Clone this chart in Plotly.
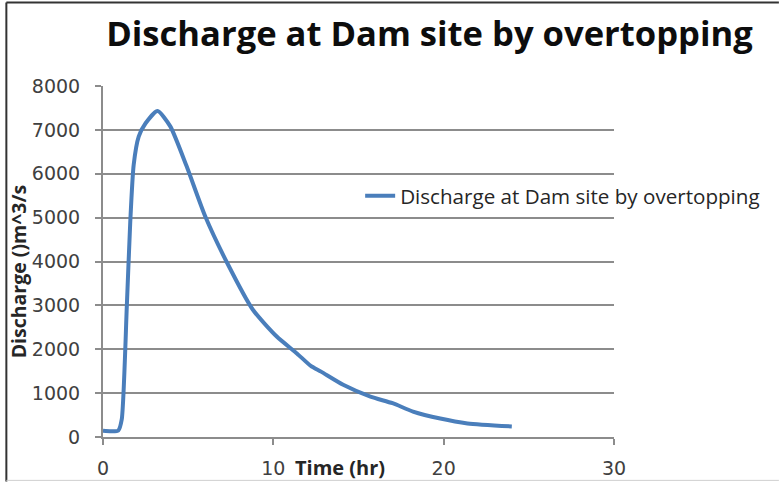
import plotly.graph_objects as go

# Data
time_hr = [0, 0.5, 0.9, 1.1, 1.4, 1.6, 1.8, 2.1, 2.5, 3.2, 3.95, 4.9, 6.0, 7.3, 8.8,
           10.2, 11.4, 12.2, 12.8, 14.1, 15.7, 17.0, 18.2, 19.8, 21.4, 24.0]
discharge = [140, 130, 150, 400, 3000, 4900, 6200, 6850, 7150, 7430, 7080, 6180, 5030,
             3960, 2900, 2290, 1900, 1620, 1490, 1190, 920, 770, 580, 420, 310, 240]
series_name = "Discharge at Dam site by overtopping"
title_text = "Discharge at Dam site by overtopping"
x_title = "Time (hr)"
y_title = "Discharge ()m^3/s"
x_ticks = [0, 10, 20, 30]
y_ticks = [0, 1000, 2000, 3000, 4000, 5000, 6000, 7000, 8000]

W, H = 779, 486
L, R, T, B = 102.7, 165, 86.3, 49.3
PW, PH = W - L - R, H - T - B

def px(x):
    return (x - L) / PW

def py(y):
    return (H - B - y) / PH

GRID = "#8c8c8c"
TXT = "#404040"

fig = go.Figure()
fig.add_trace(go.Scatter(
    x=time_hr, y=discharge, mode="lines", name=series_name,
    line=dict(color="#4a7ebb", width=4, shape="spline", smoothing=0.6),
))

fig.update_layout(
    width=W, height=H,
    margin=dict(l=L, r=R, t=T, b=B, autoexpand=False),
    paper_bgcolor="white", plot_bgcolor="white",
    showlegend=True,
    legend=dict(x=px(360), y=py(196), xanchor="left", yanchor="middle",
                font=dict(family="Open Sans", size=20.6, color="#262626"),
                bgcolor="rgba(0,0,0,0)", borderwidth=0),
    title=dict(text="<b>" + title_text + "</b>", xref="container", x=429.5 / W, xanchor="center",
               yref="container", y=1 - 34 / H, yanchor="middle",
               font=dict(family="Open Sans", size=34.6, color="#0d0d0d")),
)

fig.update_xaxes(
    range=[0, 30], tickvals=x_ticks, ticktext=[str(v) for v in x_ticks],
    showgrid=False, zeroline=False,
    showline=True, linecolor=GRID, linewidth=2,
    ticks="outside", ticklen=6, tickcolor=GRID, tickwidth=2,
    ticklabelstandoff=7,
    tickfont=dict(family="DejaVu Sans", size=19, color=TXT),
)
fig.update_yaxes(
    range=[0, 8000], tickvals=y_ticks, ticktext=[str(v) for v in y_ticks],
    showgrid=True, gridcolor=GRID, gridwidth=2, zeroline=False,
    showline=True, linecolor=GRID, linewidth=2,
    ticks="outside", ticklen=6, tickcolor=GRID, tickwidth=2,
    ticklabelstandoff=11,
    tickfont=dict(family="DejaVu Sans", size=19, color=TXT),
)

fig.add_annotation(text="<b>" + x_title + "</b>", xref="paper", yref="paper",
                   x=px(340), y=py(467), xanchor="center", yanchor="middle", showarrow=False,
                   font=dict(family="Open Sans", size=20, color="#262626"))
fig.add_annotation(text="<b>" + y_title + "</b>", xref="paper", yref="paper",
                   x=px(18), y=py(271), xanchor="center", yanchor="middle",
                   showarrow=False, textangle=-90,
                   font=dict(family="Open Sans", size=19.5, color="#262626"))

# frame of the chart area
fig.add_shape(type="line", xref="paper", yref="paper", x0=px(6), x1=px(779), y0=py(3), y1=py(3),
              line=dict(color="#333333", width=2))
fig.add_shape(type="line", xref="paper", yref="paper", x0=px(6), x1=px(6), y0=py(3), y1=py(481),
              line=dict(color="#333333", width=2))
fig.add_shape(type="line", xref="paper", yref="paper", x0=px(6), x1=px(779), y0=py(480), y1=py(480),
              line=dict(color="#cfcfcf", width=1))

fig.write_html("out.html", config={"displayModeBar": False},
               post_script="document.body.style.margin='0px';")
